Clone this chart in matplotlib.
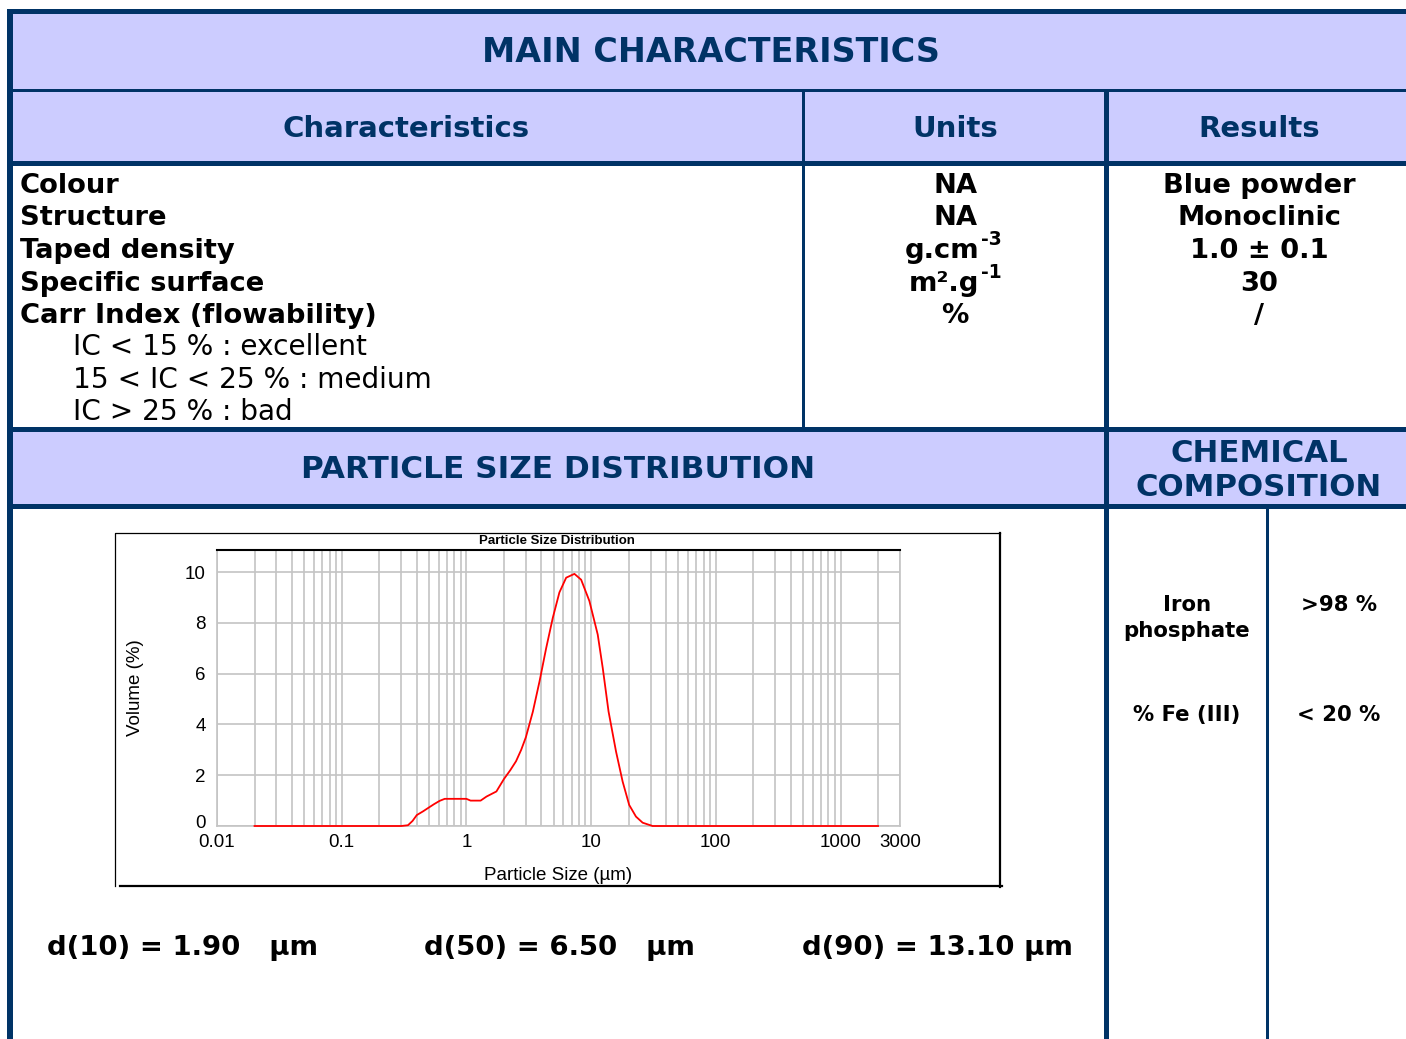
import matplotlib
matplotlib.use('Agg')
import matplotlib.pyplot as plt
from matplotlib import font_manager
from matplotlib.patches import Rectangle
from matplotlib.textpath import TextPath
from matplotlib.font_manager import FontProperties
from matplotlib.ticker import FixedLocator, NullFormatter, FixedFormatter
import matplotlib.transforms as mtransforms

# ---------------- data ----------------
size_um = [0.02, 0.30, 0.34, 0.37, 0.40, 0.45, 0.49, 0.55, 0.61, 0.67, 1.00, 1.08,
           1.30, 1.45, 1.74, 2.00, 2.25, 2.50, 2.75, 3.00, 3.41, 3.86, 4.36, 4.93,
           5.57, 6.31, 7.35, 8.32, 9.69, 11.3, 12.4, 13.8, 15.85, 17.9, 20.2, 22.9,
           25.9, 31.1, 2000]
volume_pct = [0, 0, 0.03, 0.2, 0.43, 0.58, 0.70, 0.86, 0.99, 1.07, 1.07, 1.00,
              1.00, 1.16, 1.36, 1.85, 2.2, 2.55, 3.0, 3.5, 4.5, 5.7, 7.0, 8.2,
              9.2, 9.78, 9.93, 9.7, 8.86, 7.54, 6.22, 4.51, 2.93, 1.75, 0.83, 0.37,
              0.13, 0, 0]
x_ticks = [0.01, 0.1, 1, 10, 100, 1000, 3000]
x_tick_labels = ['0.01', '0.1', '1', '10', '100', '1000', '3000']
y_ticks = [0, 2, 4, 6, 8, 10]

char_names = ['Colour', 'Structure', 'Taped density', 'Specific surface',
              'Carr Index (flowability)']
ic_lines = ['IC < 15 % : excellent', '15 < IC < 25 % : medium', 'IC > 25 % : bad']
unit_base = ['NA', 'NA', 'g.cm', 'm².g', '%']
unit_sup = ['', '', '-3', '-1', '']
results = ['Blue powder', 'Monoclinic', '1.0 ± 0.1', '30', '/']
chem_names = [['Iron', 'phosphate'], ['% Fe (III)']]
chem_values = ['>98 %', '< 20 %']
d_labels = ['d(10) = 1.90   µm', 'd(50) = 6.50   µm', 'd(90) = 13.10 µm']

# ---------------- style ----------------
W, H = 1406, 1039
NAVY = '#003366'
LAV = '#CCCCFF'
FAM = 'DejaVu Sans'

def has_font(name):
    try:
        font_manager.findfont(FontProperties(family=name), fallback_to_default=False)
        return True
    except Exception:
        return False

NARROW = 'Liberation Sans Narrow' if has_font('Liberation Sans Narrow') else 'Liberation Sans'

def fit(text, target_px, weight='bold', family=FAM):
    w = TextPath((0, 0), text, size=100,
                 prop=FontProperties(family=family, weight=weight)).get_extents().width
    return target_px / (w / 100.0 * 100.0 / 72.0)

S_MAIN = fit('MAIN CHARACTERISTICS', 451)
S_SUB = fit('Characteristics', 244)
S_PSD = fit('PARTICLE SIZE DISTRIBUTION', 509)
S_CHM = fit('COMPOSITION', 242)
S_ROW = fit('Carr Index (flowability)', 354)
S_NORM = fit('15 < IC < 25 % : medium', 354, weight='normal')
S_CHEM = fit('phosphate', 124)
S_D = fit('d(90) = 13.10 µm', 267)

fig = plt.figure(figsize=(W / 100, H / 100), dpi=100)
ov = fig.add_axes([0, 0, 1, 1], zorder=0)
ov.set_xlim(0, W)
ov.set_ylim(H, 0)
ov.axis('off')

def rect(x0, y0, x1, y1, color):
    ov.add_patch(Rectangle((x0, y0), x1 - x0, y1 - y0, facecolor=color,
                           edgecolor='none', lw=0))

# backgrounds
rect(13, 14, W, 89, LAV)
rect(13, 92, W, 161, LAV)
rect(13, 431, W, 505, LAV)
# rules
rect(7, 9, W, 14, NAVY)
rect(7, 9, 13, H, NAVY)
rect(7, 89, W, 92, NAVY)
rect(7, 161, W, 166, NAVY)
rect(802, 89, 805, 431, NAVY)
rect(1104, 89, 1109, H, NAVY)
rect(7, 427, W, 432, NAVY)
rect(7, 504, W, 509, NAVY)
rect(1266, 509, 1269, H, NAVY)

def txt(x, y, s, size, ha='center', weight='bold', color='black', va='baseline'):
    ov.text(x, y, s, fontsize=size, ha=ha, va=va, fontweight=weight,
            color=color, family=FAM)

# headers
txt(711, 62, 'MAIN CHARACTERISTICS', S_MAIN, color=NAVY)
txt(406, 137, 'Characteristics', S_SUB, color=NAVY)
txt(955, 137, 'Units', S_SUB, color=NAVY)
txt(1259, 137, 'Results', S_SUB, color=NAVY)
txt(558, 478, 'PARTICLE SIZE DISTRIBUTION', S_PSD, color=NAVY)
txt(1259, 462, 'CHEMICAL', S_CHM, color=NAVY)
txt(1259, 496, 'COMPOSITION', S_CHM, color=NAVY)

row_base = [193, 225, 258, 291, 323]
for i, name in enumerate(char_names):
    txt(20, row_base[i], name, S_ROW, ha='left')
for i, s in enumerate(ic_lines):
    txt(73, 355 + 32.5 * i, s, S_NORM, ha='left', weight='normal')

for i in range(5):
    if unit_sup[i]:
        txt(979, row_base[i], unit_base[i], S_ROW, ha='right')
        txt(981, row_base[i] - 13, unit_sup[i], S_ROW * 0.68, ha='left')
    else:
        txt(955, row_base[i], unit_base[i], S_ROW)
    txt(1259, row_base[i], results[i], S_ROW)

txt(1187, 611, chem_names[0][0], S_CHEM)
txt(1187, 637, chem_names[0][1], S_CHEM)
txt(1339, 611, chem_values[0], S_CHEM)
txt(1187, 721, chem_names[1][0], S_CHEM)
txt(1339, 721, chem_values[1], S_CHEM)

d_x = [47, 424, 802]
for x, s in zip(d_x, d_labels):
    txt(x, 955, s, S_D, ha='left')

# chart frame
ov.plot([115, 115, 1000], [886, 533, 533], color='black', lw=0.9)
ov.plot([1000, 1000], [533, 887], color='black', lw=1.6)
ov.plot([120, 1002], [886, 886], color='black', lw=1.6)
ov.text(557, 541, 'Particle Size Distribution', fontsize=9.5, fontweight='bold',
        family=[NARROW, 'DejaVu Sans'], ha='center', va='center')

# ---------------- plot ----------------
ax = fig.add_axes([217 / W, (H - 826) / H, 683 / W, 276 / H], zorder=2)
ax.set_facecolor('white')
ax.set_xscale('log')
ax.set_xlim(0.01, 3000)
ax.set_ylim(0, 10.87)
ax.plot(size_um, volume_pct, color='red', lw=1.3, zorder=5, clip_on=False)

minor = [m * 10.0 ** k for k in range(-2, 4) for m in range(1, 10)]
minor = [v for v in minor if v <= 3000]
ax.xaxis.set_major_locator(FixedLocator(x_ticks))
ax.xaxis.set_major_formatter(FixedFormatter(x_tick_labels))
ax.xaxis.set_minor_locator(FixedLocator(minor))
ax.xaxis.set_minor_formatter(NullFormatter())
ax.set_yticks(y_ticks)
ax.set_yticklabels([str(v) for v in y_ticks])
ax.grid(which='both', axis='x', color='#C4C4C4', lw=1.2)
ax.grid(which='major', axis='y', color='#C4C4C4', lw=1.2)
ax.set_axisbelow(True)
ax.tick_params(which='both', length=0)
ax.tick_params(axis='x', pad=5.5)
ax.tick_params(axis='y', pad=8)
for lab in ax.get_xticklabels() + ax.get_yticklabels():
    lab.set_family([NARROW, 'DejaVu Sans'])
    lab.set_fontsize(13.5)
# lift the "0" label a little so it does not sit on "0.01"
zero_lab = ax.get_yticklabels()[0]
zero_lab.set_transform(zero_lab.get_transform() +
                       mtransforms.ScaledTranslation(0, 5 / 100, fig.dpi_scale_trans))
for side in ['left', 'right', 'bottom']:
    ax.spines[side].set_color('#C4C4C4')
    ax.spines[side].set_linewidth(1.2)
ax.spines['top'].set_color('black')
ax.spines['top'].set_linewidth(1.5)

ax.set_xlabel('Particle Size (µm)', family=[NARROW, 'DejaVu Sans'], fontsize=13.5)
ax.set_ylabel('Volume (%)', family=[NARROW, 'DejaVu Sans'], fontsize=13.5)
ax.xaxis.set_label_coords(0.5, (826 - 875) / 276)
ax.xaxis.label.set_va('center')
ax.yaxis.set_label_coords((135 - 217) / 683, 0.5)
ax.yaxis.label.set_va('center')

fig.savefig('out.png', dpi=100)
